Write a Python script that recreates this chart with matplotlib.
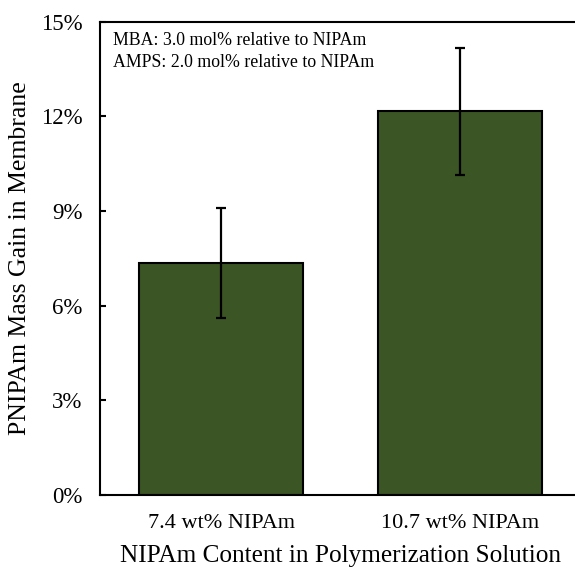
import numpy as np
import matplotlib
matplotlib.use('Agg')
import matplotlib.pyplot as plt
from matplotlib.ticker import PercentFormatter

# Mass gain of PNIPAm in the membrane for two NIPAm loadings
categories = ['7.4 wt% NIPAm', '10.7 wt% NIPAm']
mass_gain = [7.35, 12.15]        # %
mass_gain_err = [1.73, 2.0]      # %
y_ticks = [0, 3, 6, 9, 12, 15]

plt.rcParams['font.family'] = ['Liberation Serif', 'DejaVu Serif']

fig = plt.figure(figsize=(5.75, 5.68), dpi=100)
ax = fig.add_axes([100 / 575, 73 / 568, 481 / 575, 473.5 / 568])

x = np.arange(len(categories))
ax.bar(x, mass_gain, width=0.69, color='#3b5525', edgecolor='black', linewidth=1.5,
       yerr=mass_gain_err, error_kw=dict(ecolor='black', elinewidth=1.6, capsize=3.5, capthick=1.6))

ax.set_xlim(-0.507, 1.507)
ax.set_ylim(0, 15)
ax.set_yticks(y_ticks)
ax.yaxis.set_major_formatter(PercentFormatter(decimals=0))
ax.set_xticks(x)
ax.set_xticklabels(categories)
ax.tick_params(axis='y', direction='in', length=4, width=1.5, labelsize=16.5, pad=12.5)
ax.tick_params(axis='x', length=0, labelsize=16, pad=14)

for s in ax.spines.values():
    s.set_linewidth(1.5)

ax.set_xlabel('NIPAm Content in Polymerization Solution', fontsize=18.2, labelpad=8.5)
ax.set_ylabel('PNIPAm Mass Gain in Membrane', fontsize=18.5, labelpad=7)

ax.text(0.026, 0.978, 'MBA: 3.0 mol% relative to NIPAm\nAMPS: 2.0 mol% relative to NIPAm',
        transform=ax.transAxes, ha='left', va='top', fontsize=12.8, linespacing=1.4)

fig.savefig('out.png', dpi=100)
